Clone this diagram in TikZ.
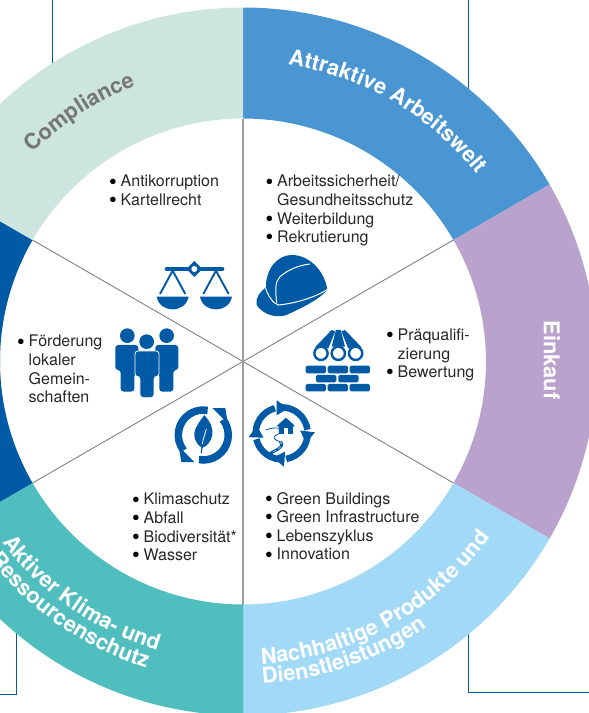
\documentclass[tikz,border=0pt]{standalone}
\usepackage{fontspec}
\setmainfont{TeX Gyre Heros}
\usetikzlibrary{decorations.text}
\definecolor{iconblue}{HTML}{005AA5}
\definecolor{ringcompl}{HTML}{CCE5DF}
\definecolor{ringwork}{HTML}{4A96D2}
\definecolor{ringbuy}{HTML}{B9A2CC}
\definecolor{ringprod}{HTML}{A2D9F7}
\definecolor{ringclim}{HTML}{50BDBE}
\definecolor{labelgrey}{HTML}{767676}
\newcommand{\itm}[1]{\makebox[11.5pt][l]{\smash{\raisebox{-2.2pt}{\fontsize{22}{22}\selectfont\color{black}\textbullet}}}#1}
\newcommand{\cnt}[1]{\hspace*{11.5pt}#1}
\newcommand{\ringfont}{\fontsize{21.8}{21.8}\selectfont\bfseries}
\tikzset{
  listtext/.style={anchor=north west,inner sep=0pt,align=left,text=black!85,
    font=\fontsize{16}{18.6}\selectfont},
  frameline/.style={draw=iconblue,line width=1pt},
  brick/.style={fill=iconblue,rounded corners=1.5pt},
}
\begin{document}
\begin{tikzpicture}[x=1pt,y=-1pt]
  \clip (0,0) rectangle (589,713);
  % frames behind the ring
  \coordinate (tl) at (52,0);   \coordinate (tlend) at (52,70);
  \coordinate (tr) at (468.5,0); \coordinate (trend) at (468.5,95);
  \coordinate (bla) at (16.3,625); \coordinate (blb) at (16.3,694); \coordinate (blc) at (0,694);
  \coordinate (bra) at (468.5,625); \coordinate (brb) at (468.5,692); \coordinate (brc) at (589,692);
  \draw[frameline] (tl) -- (tlend);
  \draw[frameline] (tr) -- (trend);
  \draw[frameline] (bla) -- (blb) -- (blc);
  \draw[frameline] (bra) -- (brb) -- (brc);
  % ring
  \begin{scope}[shift={(243,361.5)},y=1pt]
    \foreach \a/\col in {30/ringwork,-30/ringbuy,-90/ringprod,210/ringclim,150/iconblue,90/ringcompl}
      \fill[\col] (\a:354) arc[start angle=\a,delta angle=60,radius=354]
        -- (\a+60:243) arc[start angle=\a+60,delta angle=-60,radius=243] -- cycle;
    \coordinate (hub) at (0,0);
    \foreach \a in {30,150,210,330}{
      \path (\a:243) coordinate (s\a);
      \draw[black!50,line width=0.9pt] (hub) -- (s\a);
    }
    \foreach \a in {90,270}{
      \path (\a:243) coordinate (s\a);
      \draw[black!38,line width=1.3pt] (hub) -- (s\a);
    }
    % ring labels
    \path[decorate,decoration={text along path,text align=center,
      text={|\ringfont\color{white}|Attraktive Arbeitswelt}}]
      (85:300) arc[start angle=85,end angle=35,radius=300];
    \path[decorate,decoration={text along path,text align=center,
      text={|\ringfont\color{labelgrey}|Compliance}}]
      (140:296) arc[start angle=140,end angle=106.5,radius=296];
    \path[decorate,decoration={text along path,text align=left,
      text={|\ringfont\color{white}|Nachhaltige Produkte und}}]
      (-86.5:303) arc[start angle=-86.5,end angle=-30,radius=303];
    \path[decorate,decoration={text along path,text align=left,
      text={|\ringfont\color{white}|Dienstleistungen}}]
      (-86.5:323) arc[start angle=-86.5,end angle=-40,radius=323];
    \path[decorate,decoration={text along path,text align=right,
      text={|\ringfont\color{white}|Aktiver Klima- und}}]
      (195:301) arc[start angle=195,end angle=253.5,radius=301];
    \path[decorate,decoration={text along path,text align=right,
      text={|\ringfont\color{white}|Ressourcenschutz}}]
      (195:321.5) arc[start angle=195,end angle=252.5,radius=321.5];
  \end{scope}
  \node[rotate=-90,text=white,font=\ringfont] (einkauf) at (552,360) {Einkauf};
  % lists
  \node[listtext] (lcompl) at (109,175) {\itm{Antikorruption}\\\itm{Kartellrecht}};
  \node[listtext] (lwork) at (265.5,175) {\itm{Arbeitssicherheit/}\\\cnt{Gesundheitsschutz}\\\itm{Weiterbildung}\\\itm{Rekrutierung}};
  \node[listtext] (lbuy) at (386,328.5) {\itm{Präqualifi-}\\\cnt{zierung}\\\itm{Bewertung}};
  \node[listtext] (lprod) at (265,492) {\itm{Green Buildings}\\\itm{Green Infrastructure}\\\itm{Lebenszyklus}\\\itm{Innovation}};
  \node[listtext] (lclim) at (132,493) {\itm{Klimaschutz}\\\itm{Abfall}\\\itm{Biodiversität*}\\\itm{Wasser}};
  \node[listtext] (lcomm) at (17,335) {\itm{Förderung}\\\cnt{lokaler}\\\cnt{Gemein-}\\\cnt{schaften}};
  % icons, read off in 3x units
  \begin{scope}[shift={(100,240)},x=0.3333pt,y=-0.3333pt]
    % scales
    \draw[iconblue,line width=4.2pt,line cap=round] (200,87) -- (367,87);
    \fill[iconblue] (283,63) -- (307,87) -- (283,111) -- (259,87) -- cycle;
    \fill[white] (283,87) circle (9);
    \foreach \px in {218,348}{
      \draw[iconblue,line width=1.9pt] (\px-38,162) -- (\px,92) -- (\px+38,162);
      \fill[iconblue] (\px-48,170) .. controls (\px-43,195) and (\px-23,208) .. (\px,208)
        .. controls (\px+23,208) and (\px+43,195) .. (\px+48,170) -- cycle;
    }
    % helmet
    \fill[iconblue] (498,142) .. controls (497,90) and (530,45) .. (575,45)
      .. controls (630,45) and (675,95) .. (682,150)
      .. controls (650,185) and (600,205) .. (560,225)
      .. controls (530,235) and (490,225) .. (470,195)
      .. controls (465,175) and (480,155) .. (498,142) -- cycle;
    \draw[white,line width=1pt] (497,145) .. controls (505,170) and (520,190) .. (535,195)
      .. controls (590,190) and (650,170) .. (684,147);
    \draw[white,line width=1pt] (530,188) .. controls (526,150) and (525,125) .. (540,110)
      .. controls (565,88) and (600,75) .. (630,72);
    % people
    \fill[iconblue] (82,287) circle (22) (200,287) circle (22) (140,305) circle (22);
    \fill[iconblue,rounded corners=3pt] (46,315) -- (115,315) -- (115,400) -- (103,400)
      -- (103,455) -- (62,455) -- (62,390) -- (46,390) -- cycle;
    \fill[iconblue,rounded corners=3pt] (235,315) -- (166,315) -- (166,400) -- (178,400)
      -- (178,455) -- (220,455) -- (220,390) -- (235,390) -- cycle;
    \filldraw[iconblue,draw=white,line width=0.8pt,rounded corners=3pt] (105,333) -- (177,333)
      -- (177,410) -- (162,410) -- (162,473) -- (120,473) -- (120,410) -- (105,410) -- cycle;
    % pipes and bricks
    \fill[iconblue] (645,322) -- (695,270) -- (706,274) -- (685,325) -- cycle;
    \fill[iconblue] (695,320) -- (708,270) -- (722,270) -- (735,320) -- cycle;
    \fill[iconblue] (745,325) -- (724,274) -- (735,270) -- (785,322) -- cycle;
    \foreach \px in {663,715,767}
      \filldraw[draw=iconblue,fill=white,line width=2.4pt] (\px,340) circle (20);
    \foreach \px in {617,683,749}{
      \fill[brick] (\px,377) rectangle (\px+61,400);
      \fill[brick] (\px,432) rectangle (\px+61,454);
    }
    \foreach \px in {648,715}
      \fill[brick] (\px,405) rectangle (\px+61,427);
    % house and road
    \fill[iconblue] (530,558) -- (558,533) -- (585,558) -- (579,560) -- (579,582) -- (537,582) -- (537,560) -- cycle;
    \fill[white] (552,565) rectangle (564,582);
    \draw[iconblue,line width=0.8pt] (497,570) .. controls (525,558) and (570,565) .. (535,582)
      .. controls (510,593) and (525,600) .. (540,605);
    \draw[iconblue,line width=2.8pt] (540,605) .. controls (560,620) and (520,635) .. (493,648);
    \draw[white,line width=0.4pt,dashed] (540,605) .. controls (560,620) and (520,635) .. (493,648);
  \end{scope}
  % leaf cycle
  \begin{scope}[shift={(203.3,435)},y=1pt]
    \foreach \r in {0,180}{
      \begin{scope}[rotate=\r]
        \draw[iconblue,line width=7.5pt] (80:25) arc[start angle=80,end angle=218,radius=25];
        \fill[iconblue] (-24.5,-11.5) -- (-9,-27) -- (-22,-27) -- cycle;
      \end{scope}
    }
    \fill[iconblue] (1,20) .. controls (8,12) and (10,6) .. (9,0)
      .. controls (8,-6) and (4,-11) .. (-1,-13)
      .. controls (-6,-10) and (-9,-5) .. (-9,0)
      .. controls (-9,8) and (-3,14) .. (1,20) -- cycle;
    \draw[iconblue,line width=1.2pt] (-1,-10) -- (-2,-18);
    \draw[white,line width=0.8pt] (-1,-9) .. controls (0,-3) and (2,2) .. (3,6);
  \end{scope}
  % house cycle
  \begin{scope}[shift={(281.7,433.3)},y=1pt]
    \foreach \r in {0,-97,-185,-272}{
      \begin{scope}[rotate=\r]
        \draw[iconblue,line width=6.5pt] (188:26) arc[start angle=188,end angle=105,radius=26];
        \fill[iconblue] (-5,33) -- (6.5,25) -- (-5,18) -- cycle;
      \end{scope}
    }
  \end{scope}
\end{tikzpicture}
\end{document}
